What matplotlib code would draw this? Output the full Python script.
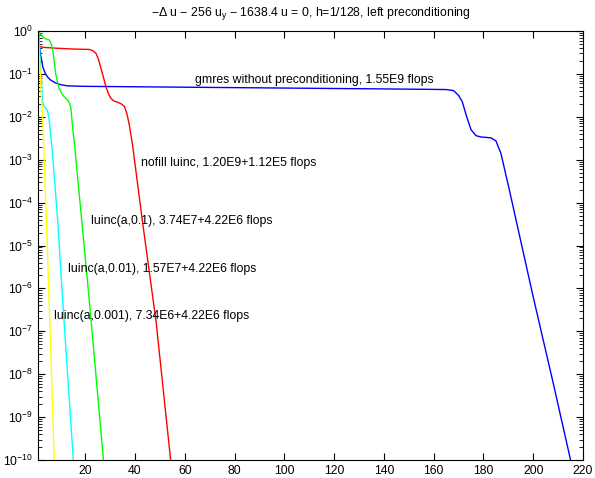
import numpy as np
import matplotlib
matplotlib.use("Agg")
import matplotlib.pyplot as plt
from matplotlib.ticker import FixedLocator, NullFormatter

plt.rcParams['font.family'] = ['Liberation Sans', 'DejaVu Sans']
plt.rcParams['mathtext.fontset'] = 'custom'
plt.rcParams['mathtext.rm'] = 'Liberation Sans'
plt.rcParams['mathtext.it'] = 'Liberation Sans'

# iteration number vs log10(relative residual)
gmres_it = [1, 1.5, 2, 3, 4, 5, 6, 8, 10, 13, 20, 40, 60, 80, 100, 120, 140, 158, 165,
            168, 170, 171.5, 173, 175, 177, 179, 181, 183, 185, 187, 190, 200, 208, 215]
gmres_log = [0, -0.3, -0.55, -0.85, -1.0, -1.08, -1.14, -1.21, -1.25, -1.28, -1.29, -1.3,
             -1.31, -1.32, -1.33, -1.34, -1.35, -1.36, -1.365, -1.39, -1.5, -1.65,
             -1.95, -2.3, -2.44, -2.47, -2.48, -2.49, -2.56, -2.85, -3.6, -6.2, -8.2, -10.0]

nofill_it = [1, 3, 8, 15, 21.6, 23, 24.3, 25.3, 26.3, 27.3, 28.3, 29.3, 30.3, 31.5,
             33, 34.5, 35.7, 36.7, 37.7, 39, 43, 48.5, 54.3]
nofill_log = [-0.35, -0.38, -0.40, -0.42, -0.43, -0.46, -0.52, -0.66, -0.87, -1.08,
              -1.30, -1.46, -1.57, -1.63, -1.66, -1.70, -1.76, -1.92, -2.19, -2.66,
              -4.45, -6.8, -10.0]

luinc1_it = [1, 2, 3.5, 5.5, 6.2, 6.8, 7.5, 8.2, 9.5, 10.9, 12, 12.9, 13.6, 14.2,
             15, 15.6, 21.6, 27.3]
luinc1_log = [0, -0.08, -0.17, -0.21, -0.28, -0.40, -0.70, -1.03, -1.34, -1.49,
              -1.56, -1.61, -1.68, -1.79, -2.3, -2.6, -6.27, -10.0]

luinc01_it = [1, 1.5, 2, 2.8, 3.5, 4.8, 5.5, 6.8, 8.9, 10.9, 15.2]
luinc01_log = [0, -0.2, -0.9, -1.65, -1.76, -1.85, -2.07, -2.84, -4.41, -6.27, -10.0]

luinc001_it = [1, 2, 3, 4, 5, 6, 7, 7.5]
luinc001_log = [0, -1.1, -2.2, -3.8, -5.5, -7.2, -9.0, -10.0]

title = r"−Δ u − 256 u$_{\mathrm{y}}$ − 1638.4 u = 0, h=1/128, left preconditioning"

fig = plt.figure(figsize=(5.95, 4.78), dpi=100)
ax = fig.add_axes([38 / 595, 18 / 478, 545 / 595, 429 / 478])

ax.semilogy(gmres_it, 10.0 ** np.array(gmres_log), color='#0000ff', lw=1)
ax.semilogy(nofill_it, 10.0 ** np.array(nofill_log), color='#ff0000', lw=1)
ax.semilogy(luinc1_it, 10.0 ** np.array(luinc1_log), color='#00ff00', lw=1)
ax.semilogy(luinc01_it, 10.0 ** np.array(luinc01_log), color='#00ffff', lw=1)
ax.semilogy(luinc001_it, 10.0 ** np.array(luinc001_log), color='#ffff00', lw=1)

fs = 8.8
ax.text(63.9, 10 ** -1.14, "gmres without preconditioning, 1.55E9 flops", fontsize=fs, va='center')
ax.text(42.5, 10 ** -3.08, "nofill luinc, 1.20E9+1.12E5 flops", fontsize=fs, va='center')
ax.text(22.4, 10 ** -4.42, "luinc(a,0.1), 3.74E7+4.22E6 flops", fontsize=fs, va='center')
ax.text(13.2, 10 ** -5.55, "luinc(a,0.01), 1.57E7+4.22E6 flops", fontsize=fs, va='center')
ax.text(7.5, 10 ** -6.64, "luinc(a,0.001), 7.34E6+4.22E6 flops", fontsize=fs, va='center')

ax.set_xlim(1, 220)
ax.set_ylim(1e-10, 1)
ax.set_xticks(np.arange(20, 221, 20))
ax.set_yticks(10.0 ** np.arange(-10, 1))
minor = [m * 10.0 ** e for e in range(-10, 0) for m in range(2, 10)]
ax.yaxis.set_minor_locator(FixedLocator(minor))
ax.yaxis.set_minor_formatter(NullFormatter())
ax.tick_params(which='both', direction='in', top=True, right=True, labelsize=fs)
ax.tick_params(which='major', length=5, width=0.8)
ax.tick_params(which='minor', length=3, width=0.6)
for s in ax.spines.values():
    s.set_linewidth(0.8)

ax.set_title(title, fontsize=fs, pad=11)

fig.savefig("out.png", dpi=100)
